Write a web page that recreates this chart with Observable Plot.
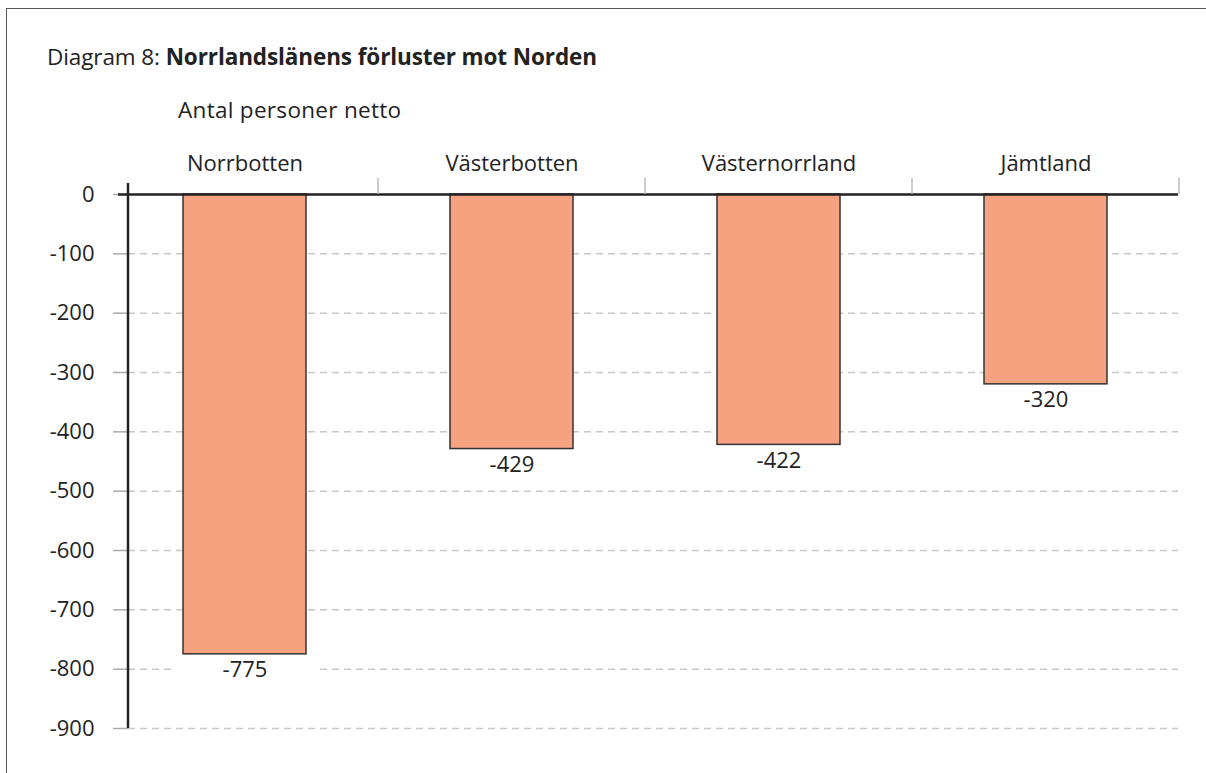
<!DOCTYPE html>
<html>
<head>
<meta charset="utf-8">
<script src="https://cdn.jsdelivr.net/npm/d3@7"></script>
<script src="https://cdn.jsdelivr.net/npm/@observablehq/plot@0.6"></script>
<style>
  html, body { margin: 0; padding: 0; background: #fff; width: 1206px; height: 773px; overflow: hidden; }
  body { position: relative; font-family: "Open Sans", sans-serif; color: #222; }
  #frame { position: absolute; left: 6px; top: 8px; width: 1400px; height: 1000px;
           border-top: 1.5px solid #555; border-left: 1.5px solid #555; z-index: 2; pointer-events: none; }
  #title { position: absolute; left: 47px; top: 42px; font-size: 22.5px; line-height: 30px; white-space: nowrap; letter-spacing: -0.1px; }
  #title b { font-weight: 700; }
  #subtitle { position: absolute; left: 178px; top: 95px; font-size: 22.5px; line-height: 30px; white-space: nowrap; letter-spacing: 0.3px; }
  #chart { position: absolute; left: 0; top: 130px; }
</style>
</head>
<body>
<div id="frame"></div>
<div id="title">Diagram 8: <b>Norrlandslänens förluster mot Norden</b></div>
<div id="subtitle">Antal personer netto</div>
<div id="chart"></div>
<script>
const categories = ["Norrbotten", "Västerbotten", "Västernorrland", "Jämtland"];
const values = [-775, -429, -422, -320];
const yTicks = [0, -100, -200, -300, -400, -500, -600, -700, -800, -900];

const data = categories.map((c, i) => ({region: c, value: values[i]}));

const top0 = 130;
const W = 1206, H = 773 - top0;

// separators between categories and y-axis line
const decorations = (index, scales, values_, dims) => {
  const g = d3.create("svg:g");
  const x = scales.x;
  const step = x.step();
  const bw = x.bandwidth();
  categories.forEach(c => {
    const xe = x(c) + bw / 2 + step / 2;
    g.append("line").attr("x1", xe).attr("x2", xe)
      .attr("y1", dims.marginTop - 5).attr("y2", scales.y(0))
      .attr("stroke", "#bbb").attr("stroke-width", 1.5);
  });
  g.append("line").attr("x1", dims.marginLeft).attr("x2", dims.marginLeft)
    .attr("y1", dims.marginTop).attr("y2", dims.height - dims.marginBottom)
    .attr("stroke", "#222").attr("stroke-width", 2.5);
  return g.node();
};

const chart = Plot.plot({
  width: W,
  height: H,
  marginLeft: 128,
  marginRight: 28,
  marginTop: 53,
  marginBottom: 45,
  style: {fontFamily: "'Open Sans', sans-serif", fontSize: "22px", color: "#222", background: "transparent"},
  x: {domain: categories, range: [111, 1179], paddingInner: 0.54, paddingOuter: 0.27, label: null},
  y: {domain: [-900, 0], range: [728 - top0, 194 - top0], ticks: yTicks, label: null},
  marks: [
    Plot.gridY(yTicks.filter(d => d !== 0), {stroke: "#c8c8c8", strokeOpacity: 1, strokeWidth: 1.5, strokeDasharray: "7,5"}),
    Plot.axisY(yTicks, {tickSize: 15, tickPadding: 19, stroke: "#aaa", strokeWidth: 1.5, fill: "#222", fontSize: 22, tickFormat: d => d === 0 ? "0" : "-" + Math.abs(d)}),
    Plot.axisX({anchor: "top", tickSize: 0, tickPadding: 13, fontSize: 22, fill: "#222"}),
    Plot.barY(data, {x: "region", y1: "value", y2: "value", insetTop: 0, insetBottom: -32, insetLeft: -7, insetRight: -10, fill: "white"}),
    Plot.barY(data, {x: "region", y: "value", fill: "#F6A281", stroke: "#333", strokeWidth: 1.5}),
    Plot.ruleY([0], {stroke: "#222", strokeWidth: 2.5, insetLeft: -10}),
    decorations,
    Plot.text(data, {x: "region", y: "value", text: d => String(d.value), dy: 16, lineAnchor: "middle", fontSize: 22, fill: "#222"})
  ]
});
document.getElementById("chart").appendChild(chart);
</script>
</body>
</html>
